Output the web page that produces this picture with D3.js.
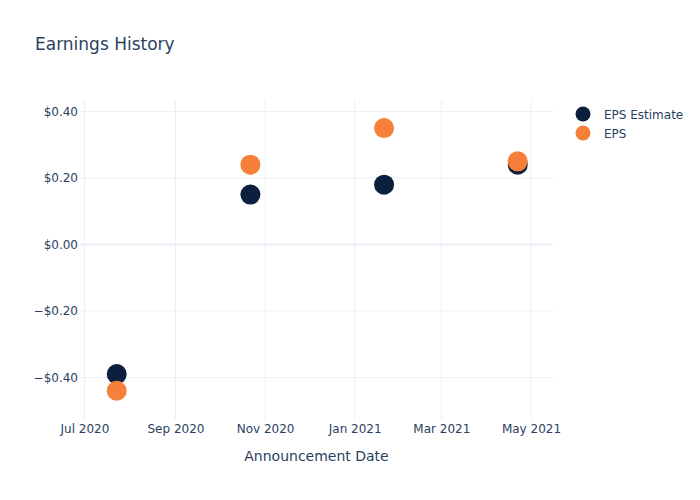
<!DOCTYPE html>
<html><head><meta charset="utf-8">
<script src="https://cdn.jsdelivr.net/npm/d3@7"></script>
<style>body{margin:0;background:#fff}svg{font-family:"DejaVu Sans",Verdana,sans-serif}</style>
</head><body>
<svg id="c" width="700" height="500"></svg>
<script>
const dates = ["2020-07-23", "2020-10-22", "2021-01-21", "2021-04-22"];
const epsEstimate = [-0.39, 0.15, 0.18, 0.24];
const eps = [-0.44, 0.24, 0.35, 0.25];
const yTicks = [-0.4, -0.2, 0, 0.2, 0.4];
const xTicks = ["2020-07-01", "2020-09-01", "2020-11-01", "2021-01-01", "2021-03-01", "2021-05-01"];
const seriesNames = ["EPS Estimate", "EPS"];
const colors = ["#0c1f3f", "#f6803a"];

const parse = d3.utcParse("%Y-%m-%d");
const svg = d3.select("#c");
const L = 80, R = 553, T = 100, B = 420;
const x = d3.scaleUtc().domain([parse("2020-06-28"), parse("2021-05-16")]).range([L, R]);
const y = d3.scaleLinear().domain([-0.528, 0.4346]).range([B, T]);
const txt = "#2a3f5f", grid = "#ebf0f8";
const ff = '"DejaVu Sans",Verdana,sans-serif';

// gridlines
svg.append("g").selectAll("line").data(xTicks).join("line")
  .attr("x1", d => x(parse(d))).attr("x2", d => x(parse(d)))
  .attr("y1", T).attr("y2", B).attr("stroke", grid).attr("stroke-width", 1);
svg.append("g").selectAll("line").data(yTicks).join("line")
  .attr("x1", L).attr("x2", R).attr("y1", d => y(d)).attr("y2", d => y(d))
  .attr("stroke", grid).attr("stroke-width", d => d === 0 ? 2 : 1);

// axes
const fmtY = d => (d < 0 ? "\u2212" : "") + "$" + Math.abs(d).toFixed(2);
const yAxis = d3.axisLeft(y).tickValues(yTicks).tickFormat(fmtY).tickSize(0).tickPadding(2);
const gy = svg.append("g").attr("transform", `translate(${L},0)`).call(yAxis);
gy.select(".domain").remove();
gy.selectAll("text").attr("fill", txt).style("font-size", "12px").style("font-family", ff);

const fmtX = d3.utcFormat("%b %Y");
const xAxis = d3.axisBottom(x).tickValues(xTicks.map(parse)).tickFormat(fmtX).tickSize(0).tickPadding(4);
const gx = svg.append("g").attr("transform", `translate(0,${B})`).call(xAxis);
gx.select(".domain").remove();
gx.selectAll("text").attr("fill", txt).style("font-size", "12px").style("font-family", ff);

// axis title
svg.append("text").attr("x", (L + R) / 2).attr("y", 461).attr("text-anchor", "middle")
  .attr("fill", txt).style("font-size", "14px").text("Announcement Date");
// title
svg.append("text").attr("x", 35).attr("y", 50).attr("fill", txt).style("font-size", "17px").text("Earnings History");

// points
const series = [epsEstimate, eps];
series.forEach((vals, i) => {
  svg.append("g").selectAll("circle").data(vals).join("circle")
    .attr("cx", (d, j) => x(parse(dates[j]))).attr("cy", d => y(d))
    .attr("r", 10).attr("fill", colors[i]);
});

// legend
seriesNames.forEach((n, i) => {
  const g = svg.append("g").attr("transform", `translate(583,${114 + i * 19})`);
  g.append("circle").attr("r", 7.5).attr("fill", colors[i]);
  g.append("text").attr("x", 21).attr("y", 4.5).attr("fill", txt).style("font-size", "12px").text(n);
});
</script>
</body></html>
